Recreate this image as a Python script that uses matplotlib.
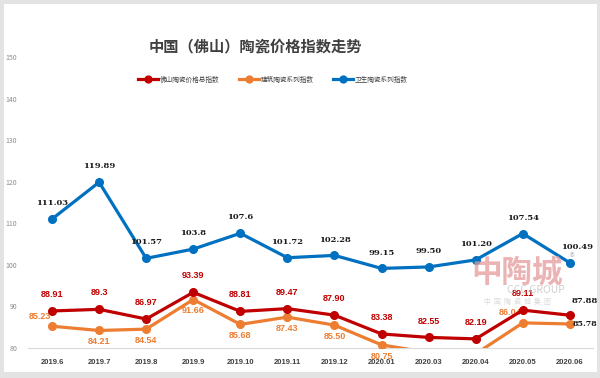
import matplotlib
matplotlib.use('Agg')
import matplotlib.pyplot as plt
from matplotlib.patches import Rectangle

plt.rcParams['font.family'] = ['Noto Sans CJK SC', 'DejaVu Sans']

# data
months = ['2019.6', '2019.7', '2019.8', '2019.9', '2019.10', '2019.11',
          '2019.12', '2020.01', '2020.03', '2020.04', '2020.05', '2020.06']
total_idx = [88.91, 89.3, 86.97, 93.39, 88.81, 89.47, 87.90, 83.38, 82.55, 82.19, 89.11, 87.88]
build_idx = [85.23, 84.21, 84.54, 91.66, 85.68, 87.43, 85.50, 80.75, 78.9, 78.6, 86.04, 85.78]
sanit_idx = [111.03, 119.89, 101.57, 103.8, 107.6, 101.72, 102.28, 99.15, 99.50, 101.20, 107.54, 100.49]
total_lbl = ['88.91', '89.3', '86.97', '93.39', '88.81', '89.47', '87.90', '83.38', '82.55', '82.19', '89.11', '87.88']
build_lbl = ['85.23', '84.21', '84.54', '91.66', '85.68', '87.43', '85.50', '80.75', '', '', '86.04', '85.78']
sanit_lbl = ['111.03', '119.89', '101.57', '103.8', '107.6', '101.72', '102.28', '99.15', '99.50', '101.20', '107.54', '100.49']
names = ['佛山陶瓷价格总指数', '建筑陶瓷系列指数', '卫生陶瓷系列指数']
yticks = [80, 90, 100, 110, 120, 130, 140, 150]

RED = '#c00000'
ORANGE = '#ed7d31'
BLUE = '#0070c0'
SERIF = ['DejaVu Serif']
SANS = ['Liberation Sans', 'DejaVu Sans']

fig = plt.figure(figsize=(6, 3.78), dpi=100)
# grey frame
fig.patches.append(Rectangle((0, 0), 1, 1, transform=fig.transFigure,
                             facecolor='#e3e3e3', edgecolor='none', zorder=-2))
fig.patches.append(Rectangle((0.006, 0.016), 0.989, 0.974, transform=fig.transFigure,
                             facecolor='white', edgecolor='none', zorder=-1))

ax = fig.add_axes([0.0475, 0.0794, 0.9415, 0.7696])
ax.set_facecolor('none')
x = list(range(len(months)))

ax.plot(x, build_idx, color=ORANGE, lw=2.3, marker='o', ms=5.5, label=names[1], zorder=3)
ax.plot(x, total_idx, color=RED, lw=2.3, marker='o', ms=5.5, label=names[0], zorder=4)
ax.plot(x, sanit_idx, color=BLUE, lw=2.3, marker='o', ms=5.5, label=names[2], zorder=5)

ax.set_xlim(-0.5, len(months) - 0.5)
ax.set_ylim(80, 150)
ax.set_yticks(yticks)
ax.set_xticks(x)
ax.set_xticklabels(months, fontsize=5.5, fontweight='bold', color='#404040', family=SANS)
ax.tick_params(axis='y', labelsize=5, colors='#8c8c8c', length=0, pad=8)
ax.tick_params(axis='x', length=0, pad=8)
for s in ['top', 'right', 'left']:
    ax.spines[s].set_visible(False)
ax.spines['bottom'].set_color('#d9d9d9')

# blue labels above
for i, (v, t) in enumerate(zip(sanit_idx, sanit_lbl)):
    dx = 0.15 if i == 11 else 0
    ax.annotate(t, (i + dx, v), xytext=(0, 10), textcoords='offset points',
                ha='center', fontsize=6, fontweight='bold', color='#1a1a1a',
                family=SERIF, zorder=6)

# red labels above
for i, (v, t) in enumerate(zip(total_idx, total_lbl)):
    if i == 11:
        ax.annotate(t, (i, v), xytext=(1, 9), textcoords='offset points',
                    ha='left', fontsize=6, fontweight='bold', color='#1a1a1a',
                    family=SERIF, zorder=6)
    else:
        ax.annotate(t, (i, v), xytext=(0, 10), textcoords='offset points',
                    ha='center', fontsize=6.5, fontweight='bold', color=RED,
                    family=SANS, zorder=6)

# orange labels
for i, (v, t) in enumerate(zip(build_idx, build_lbl)):
    if not t:
        continue
    if i in (0, 10):
        ax.annotate(t, (i, v), xytext=(-9, 4), textcoords='offset points',
                    ha='center', va='bottom', fontsize=6.5, fontweight='bold',
                    color=ORANGE, family=SANS)
    elif i == 11:
        ax.annotate(t, (i, v), xytext=(2, 0), textcoords='offset points',
                    ha='left', va='center', fontsize=5.7, fontweight='bold',
                    color='#1a1a1a', family=SERIF, zorder=6)
    else:
        ax.annotate(t, (i, v), xytext=(0, -5), textcoords='offset points',
                    ha='center', va='top', fontsize=6.5, fontweight='bold',
                    color=ORANGE, family=SANS)

# title and legend
fig.text(0.425, 0.878, '中国（佛山）陶瓷价格指数走势', ha='center', va='center',
         fontsize=11, fontweight='bold', color='#404040')
handles, labels = ax.get_legend_handles_labels()
order = [1, 0, 2]
fig.legend([handles[k] for k in order], [labels[k] for k in order],
           loc='center', bbox_to_anchor=(0.455, 0.789), ncol=3, frameon=False,
           prop={'size': 4.8}, handlelength=3.0, columnspacing=3.0, handletextpad=0.2,
           labelcolor='#404040', markerscale=0.9)

# watermark
fig.text(0.862, 0.278, '中陶城', ha='center', va='center', fontsize=22,
         fontweight='bold', color='#e59a9a', alpha=0.75)
fig.text(0.893, 0.232, 'CCC GROUP', ha='center', va='center', fontsize=7.5,
         color='#c4c4c4', alpha=0.8)
fig.text(0.862, 0.200, '中  国  陶  瓷  城  集  团', ha='center', va='center', fontsize=5,
         color='#d0d0d0', alpha=0.8)
fig.text(0.953, 0.318, '®', ha='center', va='center', fontsize=7, color='#c0c0c0')

fig.savefig('out.png', dpi=100)
